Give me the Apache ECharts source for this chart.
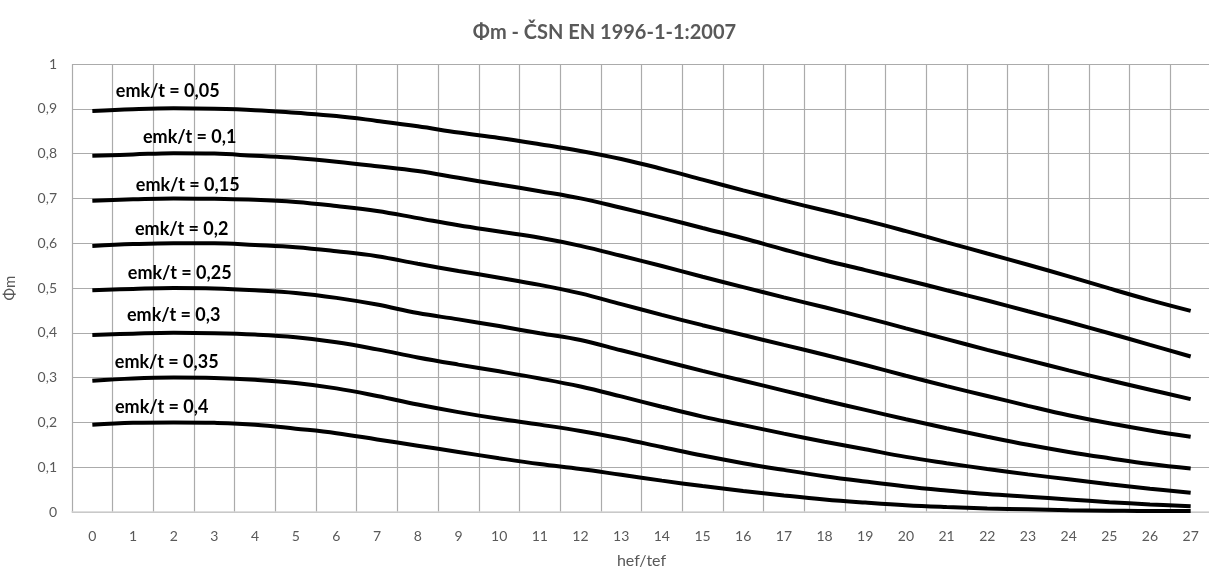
<!DOCTYPE html>
<html>
  <head>
    <meta charset="utf-8">
    <title>Φm - ČSN EN 1996-1-1:2007</title>
    <style>
      html, body { margin: 0; padding: 0; background: #fff; }
      #main { width: 1209px; height: 572px; }
    </style>
    <script src="https://cdn.jsdelivr.net/npm/echarts@6/dist/echarts.min.js"></script>
  </head>
  <body>
    <div id="main"></div>
    <script type="text/javascript">

      // hef/tef categories 0..27
      var slenderness = [];
      for (var k = 0; k <= 27; k++) slenderness.push(String(k));

      var yTicks = [0, 0.1, 0.2, 0.3, 0.4, 0.5, 0.6, 0.7, 0.8, 0.9, 1];

      // curve names
      var curveNames = ['emk/t = 0,05', 'emk/t = 0,1', 'emk/t = 0,15', 'emk/t = 0,2',
                        'emk/t = 0,25', 'emk/t = 0,3', 'emk/t = 0,35', 'emk/t = 0,4'];

      // values
      var phi005 = [0.895, 0.899, 0.901, 0.900, 0.897, 0.891, 0.884, 0.873, 0.861, 0.847, 0.835, 0.821, 0.806, 0.788,
                    0.766, 0.742, 0.718, 0.695, 0.673, 0.651, 0.627, 0.602, 0.577, 0.552, 0.526, 0.499, 0.473, 0.449];
      var phi010 = [0.795, 0.798, 0.801, 0.800, 0.795, 0.790, 0.782, 0.772, 0.761, 0.746, 0.731, 0.716, 0.700, 0.679,
                    0.657, 0.634, 0.611, 0.586, 0.562, 0.540, 0.518, 0.495, 0.472, 0.448, 0.424, 0.399, 0.373, 0.347];
      var phi015 = [0.695, 0.698, 0.700, 0.699, 0.697, 0.692, 0.683, 0.672, 0.656, 0.640, 0.626, 0.612, 0.594, 0.572,
                    0.549, 0.525, 0.502, 0.479, 0.457, 0.434, 0.410, 0.386, 0.362, 0.339, 0.316, 0.294, 0.273, 0.252];
      var phi020 = [0.594, 0.598, 0.600, 0.600, 0.596, 0.591, 0.582, 0.571, 0.554, 0.538, 0.523, 0.507, 0.488, 0.464,
                    0.440, 0.417, 0.395, 0.373, 0.351, 0.328, 0.304, 0.281, 0.259, 0.237, 0.216, 0.198, 0.182, 0.168];
      var phi025 = [0.495, 0.498, 0.500, 0.499, 0.495, 0.489, 0.478, 0.463, 0.444, 0.430, 0.415, 0.399, 0.384, 0.361,
                    0.338, 0.315, 0.293, 0.271, 0.249, 0.228, 0.207, 0.187, 0.168, 0.150, 0.134, 0.120, 0.107, 0.097];
      var phi030 = [0.395, 0.398, 0.400, 0.399, 0.396, 0.390, 0.379, 0.363, 0.345, 0.329, 0.314, 0.298, 0.280, 0.258,
                    0.235, 0.213, 0.194, 0.175, 0.157, 0.140, 0.123, 0.109, 0.096, 0.084, 0.073, 0.062, 0.052, 0.043];
      var phi035 = [0.293, 0.298, 0.300, 0.299, 0.295, 0.288, 0.276, 0.259, 0.240, 0.223, 0.208, 0.195, 0.181, 0.164,
                    0.145, 0.126, 0.109, 0.094, 0.080, 0.068, 0.057, 0.048, 0.040, 0.034, 0.028, 0.022, 0.017, 0.013];
      var phi040 = [0.195, 0.199, 0.200, 0.199, 0.195, 0.186, 0.176, 0.162, 0.148, 0.134, 0.120, 0.107, 0.096, 0.083,
                    0.070, 0.058, 0.047, 0.037, 0.028, 0.021, 0.015, 0.011, 0.008, 0.006, 0.004, 0.003, 0.002, 0.002];

      var curves = [phi005, phi010, phi015, phi020, phi025, phi030, phi035, phi040];

      // where the curve names sit, relative to the point at hef/tef = 2
      var labelIndex = 2;
      var labelOffsets = [[-6, -17], [16, -16], [14, -13], [8, -14], [6, -15], [0, -18], [-7, -15], [-12, -15]];

      var myChart = echarts.init(document.getElementById('main'));

      var series = curves.map(function (vals, s) {
        return {
          name: curveNames[s],
          type: 'line',
          smooth: 0.4,
          symbol: 'circle',
          symbolSize: 0,
          showSymbol: true,
          lineStyle: { color: '#000', width: 4 },
          itemStyle: { color: '#000' },
          z: 3,
          data: vals.map(function (v, j) {
            if (j !== labelIndex) return v;
            return {
              value: v,
              label: {
                show: true,
                position: 'inside',
                offset: labelOffsets[s],
                formatter: curveNames[s],
                color: '#000',
                fontFamily: 'Lato',
                fontWeight: 'bold',
                fontSize: 18
              }
            };
          })
        };
      });

      var option = {
        animation: false,
        backgroundColor: '#fff',
        title: {
          text: 'Φm - ČSN EN 1996-1-1:2007',
          left: 'center',
          top: 18,
          textStyle: { fontFamily: 'Lato', fontSize: 20, fontWeight: 'bold', color: '#595959' }
        },
        grid: { left: 72, top: 64, width: 1139, height: 448, outerBoundsMode: 'none', containLabel: false },
        xAxis: {
          type: 'category',
          data: slenderness,
          boundaryGap: true,
          name: 'hef/tef',
          nameLocation: 'middle',
          nameGap: 41,
          nameTextStyle: { fontFamily: 'Lato', fontSize: 16, color: '#595959' },
          axisTick: { show: false },
          axisLine: { lineStyle: { color: '#d4d4d4', width: 1.5 } },
          axisLabel: { interval: 0, margin: 17, fontFamily: 'Lato', fontSize: 14, color: '#595959' },
          splitLine: { show: true, interval: 0, lineStyle: { color: '#ababab', width: 1.2 } }
        },
        yAxis: {
          type: 'value',
          min: yTicks[0],
          max: yTicks[yTicks.length - 1],
          interval: 0.1,
          name: 'Φm',
          nameLocation: 'middle',
          nameGap: 54,
          nameRotate: 90,
          nameTextStyle: { fontFamily: 'Lato', fontSize: 15, color: '#595959' },
          axisLine: { show: false },
          axisTick: { show: false },
          axisLabel: {
            margin: 15,
            fontFamily: 'Lato',
            fontSize: 14,
            color: '#595959',
            formatter: function (v) { return String(Math.round(v * 10) / 10).replace('.', ','); }
          },
          splitLine: { lineStyle: { color: '#ababab', width: 1.2 } }
        },
        series: series
      };

      myChart.setOption(option);
    </script>
  </body>
</html>
